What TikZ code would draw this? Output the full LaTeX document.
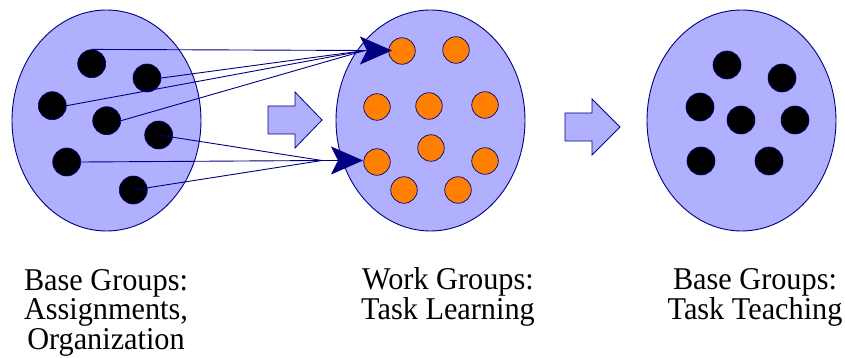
\documentclass[tikz,border=0pt]{standalone}
\usepackage{fontspec}
\setmainfont{Liberation Serif}
\newfontfamily\capfont{Liberation Serif}[FakeStretch=0.955]
\usetikzlibrary{shapes.geometric,arrows.meta}

\definecolor{grpfill}{RGB}{176,176,255}
\definecolor{navy}{RGB}{0,0,128}
\definecolor{orangedot}{RGB}{255,128,0}

\tikzset{
  grp/.style={ellipse, draw=navy, line width=0.9pt, fill=grpfill,
    minimum width=189pt, minimum height=221pt, inner sep=0pt},
  bdot/.style={circle, draw=navy, line width=0.6pt, fill=black,
    minimum size=28pt, inner sep=0pt},
  odot/.style={circle, draw=navy, line width=0.7pt, fill=orangedot,
    minimum size=26.5pt, inner sep=0pt},
  conn/.style={draw=navy, line width=0.9pt},
  headtip/.style={conn, -{Stealth[length=32pt, width=28pt, inset=7pt]}},
  blockarrow/.style={draw=navy, line width=0.8pt, fill=grpfill, line join=miter},
  caption/.style={align=center, anchor=base, inner sep=0pt,
    font=\capfont\fontsize{31.7}{29.5}\selectfont}
}

\begin{document}
\begin{tikzpicture}[x=1pt, y=-1pt]
\useasboundingbox (0,0) rectangle (845,358);

% the three groups
\node[grp] (g1) at (106.5,120.5) {};
\node[grp] (g2) at (430.5,120.5) {};
\node[grp] (g3) at (741.5,120.5) {};

% base group members
\node[bdot] (d1) at (91.7,63.7) {};
\node[bdot] (d2) at (147,78) {};
\node[bdot] (d3) at (52.3,105.7) {};
\node[bdot] (d4) at (106.7,120.7) {};
\node[bdot] (d5) at (158.7,135) {};
\node[bdot] (d6) at (66.7,162) {};
\node[bdot] (d7) at (133.3,190) {};

% work group members
\node[odot] (o1) at (402,51) {};
\node[odot] (o2) at (456,50) {};
\node[odot] (o3) at (377,107) {};
\node[odot] (o4) at (429,106) {};
\node[odot] (o5) at (485,105) {};
\node[odot] (o6) at (431,148) {};
\node[odot] (o7) at (377,162) {};
\node[odot] (o8) at (485,161) {};
\node[odot] (o9) at (404,190) {};
\node[odot] (o10) at (458,190) {};

% returning base group members
\node[bdot] (r1) at (727,65) {};
\node[bdot] (r2) at (782,78) {};
\node[bdot] (r3) at (700,107) {};
\node[bdot] (r4) at (741,120) {};
\node[bdot] (r5) at (795,120) {};
\node[bdot] (r6) at (701,161) {};
\node[bdot] (r7) at (769,161) {};

% block arrows between the stages
\draw[blockarrow] (268,106) -- (295,106) -- (295,92) -- (322,120)
  -- (295,148) -- (295,134) -- (268,134) -- cycle;
\draw[blockarrow] (565,113) -- (592,113) -- (592,99) -- (620,127)
  -- (592,155) -- (592,141) -- (565,141) -- cycle;

% members sent to the work groups
\coordinate (jt) at (365,50.5);
\coordinate (tt) at (392,50.5);
\coordinate (jb) at (322,160.5);
\coordinate (tb) at (363,160.5);

\draw[conn] (d1.north) -- (jt);
\draw[conn] (d2.east) -- (jt);
\draw[conn] (d3.east) -- (jt);
\draw[conn] (d4.east) -- (jt);
\draw[headtip] (jt) -- (tt);

\draw[conn] (d5.center) -- (jb);
\draw[conn] (d6.east) -- (jb);
\draw[conn] (d7.center) -- (jb);
\draw[headtip] (jb) -- (tb);

% captions (anchored on the baseline of their last line)
\node[caption] (c1) at (106,349) {Base Groups:\\Assignments,\\Organization};
\node[caption] (c2) at (448,319) {Work Groups:\\Task Learning};
\node[caption] (c3) at (755,319) {Base Groups:\\Task Teaching};
\end{tikzpicture}
\end{document}
